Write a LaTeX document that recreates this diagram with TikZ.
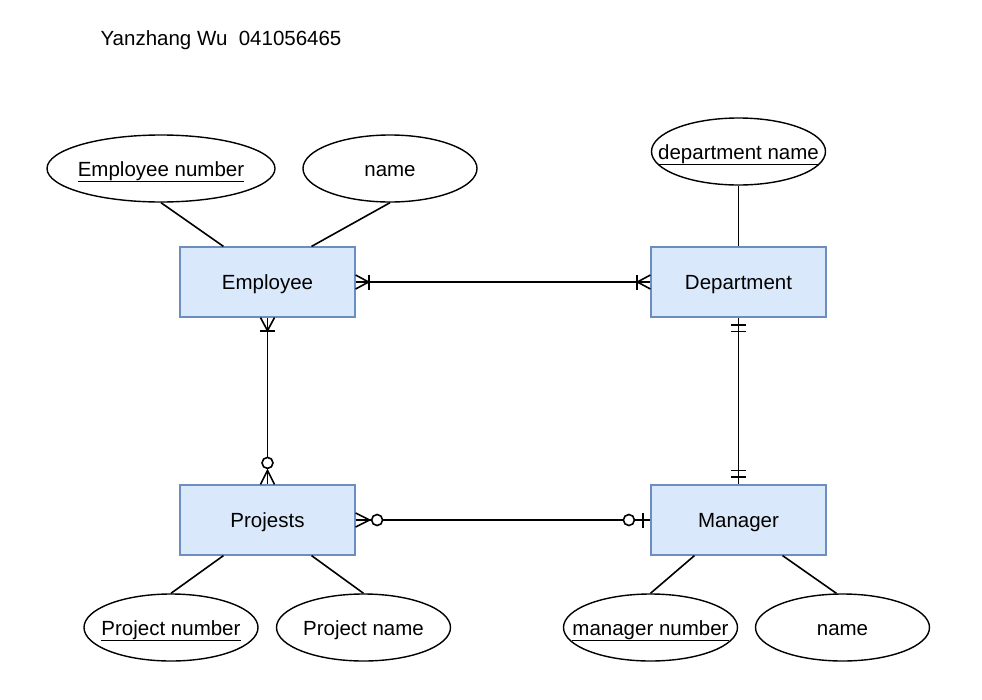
\documentclass[tikz,border=0pt]{standalone}
\usepackage{fontspec}
\setmainfont{Liberation Sans}
\usetikzlibrary{calc,shapes.geometric}

\definecolor{entfill}{HTML}{DAE8FC}
\definecolor{entdraw}{HTML}{6C8EBF}
\newcommand\attrlabel[1]{\makebox[0pt]{#1}}

\tikzset{
	every node/.style={text height=15.5, text depth=0.5},
	entity/.style={draw=entdraw, fill=entfill, line width=1.2pt, minimum width=175, minimum height=70, inner sep=0},
	attr/.style={draw, ellipse, line width=1.4pt, minimum width=174, minimum height=67, inner sep=0},
	link/.style={line width=1.6pt},
	% ends of the relations, local x points away from the box
	onemany/.pic={\draw[link] (0,-7) -- (13,0) -- (0,7); \draw[link] (13.5,-7.5) -- (13.5,7.5);},
	zeromany/.pic={\draw[link] (0,-7) -- (14,0) -- (0,7); \draw[link, fill=white] (21.5,0) circle (5.5);},
	zeroone/.pic={\draw[link] (7.5,-7.5) -- (7.5,7.5); \draw[link, fill=white] (21.5,0) circle (5.5);},
	oneonly/.pic={\draw[link] (7.5,-7.5) -- (7.5,7.5); \draw[link] (14,-7.5) -- (14,7.5);}
}

\begin{document}
\begin{tikzpicture}[x=1pt, y=-1pt, font=\fontsize{20.5}{24}\selectfont]
		%%%%% START %%%%%
		\useasboundingbox (0,0) rectangle (982,699);
		
		\node (title) at (221,38) {Yanzhang Wu\ \ 041056465};
		
		% entities
		\node[entity] (emp) at (267.5,282) {Employee};
		\node[entity] (dep) at (738.5,282) {Department};
		\node[entity] (proj) at (267.5,520) {Projests};
		\node[entity] (man) at (738.5,520) {Manager};
		
		% attributes
		\node[attr, minimum width=228] (empnum) at (161,168.5) {\attrlabel{\underline{Employee number}}};
		\node[attr] (empname) at (390,168.5) {\attrlabel{name}};
		\node[attr] (depname) at (738.5,151.5) {\attrlabel{\underline{department name}}};
		\node[attr] (projnum) at (171,627.5) {\attrlabel{\underline{Project number}}};
		\node[attr] (projname) at (363.5,627.5) {\attrlabel{Project name}};
		\node[attr] (mannum) at (650.5,627.5) {\attrlabel{\underline{manager number}}};
		\node[attr] (manname) at (842.5,627.5) {\attrlabel{name}};
		
		\draw[link] (empnum.south) -- ($(emp.north west)!0.25!(emp.north east)$);
		\draw[link] (empname.south) -- ($(emp.north west)!0.75!(emp.north east)$);
		\draw[link] (depname.south) -- (dep.north);
		\draw[link] (projnum.north) -- ($(proj.south west)!0.25!(proj.south east)$);
		\draw[link] (projname.north) -- ($(proj.south west)!0.75!(proj.south east)$);
		\draw[link] (mannum.north) -- ($(man.south west)!0.25!(man.south east)$);
		\draw[link] (manname.100) -- ($(man.south west)!0.75!(man.south east)$);
		
		% relations
		\draw[link] (emp.east) -- (dep.west);
		\pic at (emp.east) {onemany};
		\pic[rotate=180] at (dep.west) {onemany};
		
		\draw[link] (emp.south) -- (proj.north);
		\pic[rotate=-90] at (emp.south) {onemany};
		\pic[rotate=90] at (proj.north) {zeromany};
		
		\draw[link] (dep.south) -- (man.north);
		\pic[rotate=-90] at (dep.south) {oneonly};
		\pic[rotate=90] at (man.north) {oneonly};
		
		\draw[link] (proj.east) -- (man.west);
		\pic at (proj.east) {zeromany};
		\pic[rotate=180] at (man.west) {zeroone};
		
		%%%%% END %%%%%
\end{tikzpicture}
\end{document}
